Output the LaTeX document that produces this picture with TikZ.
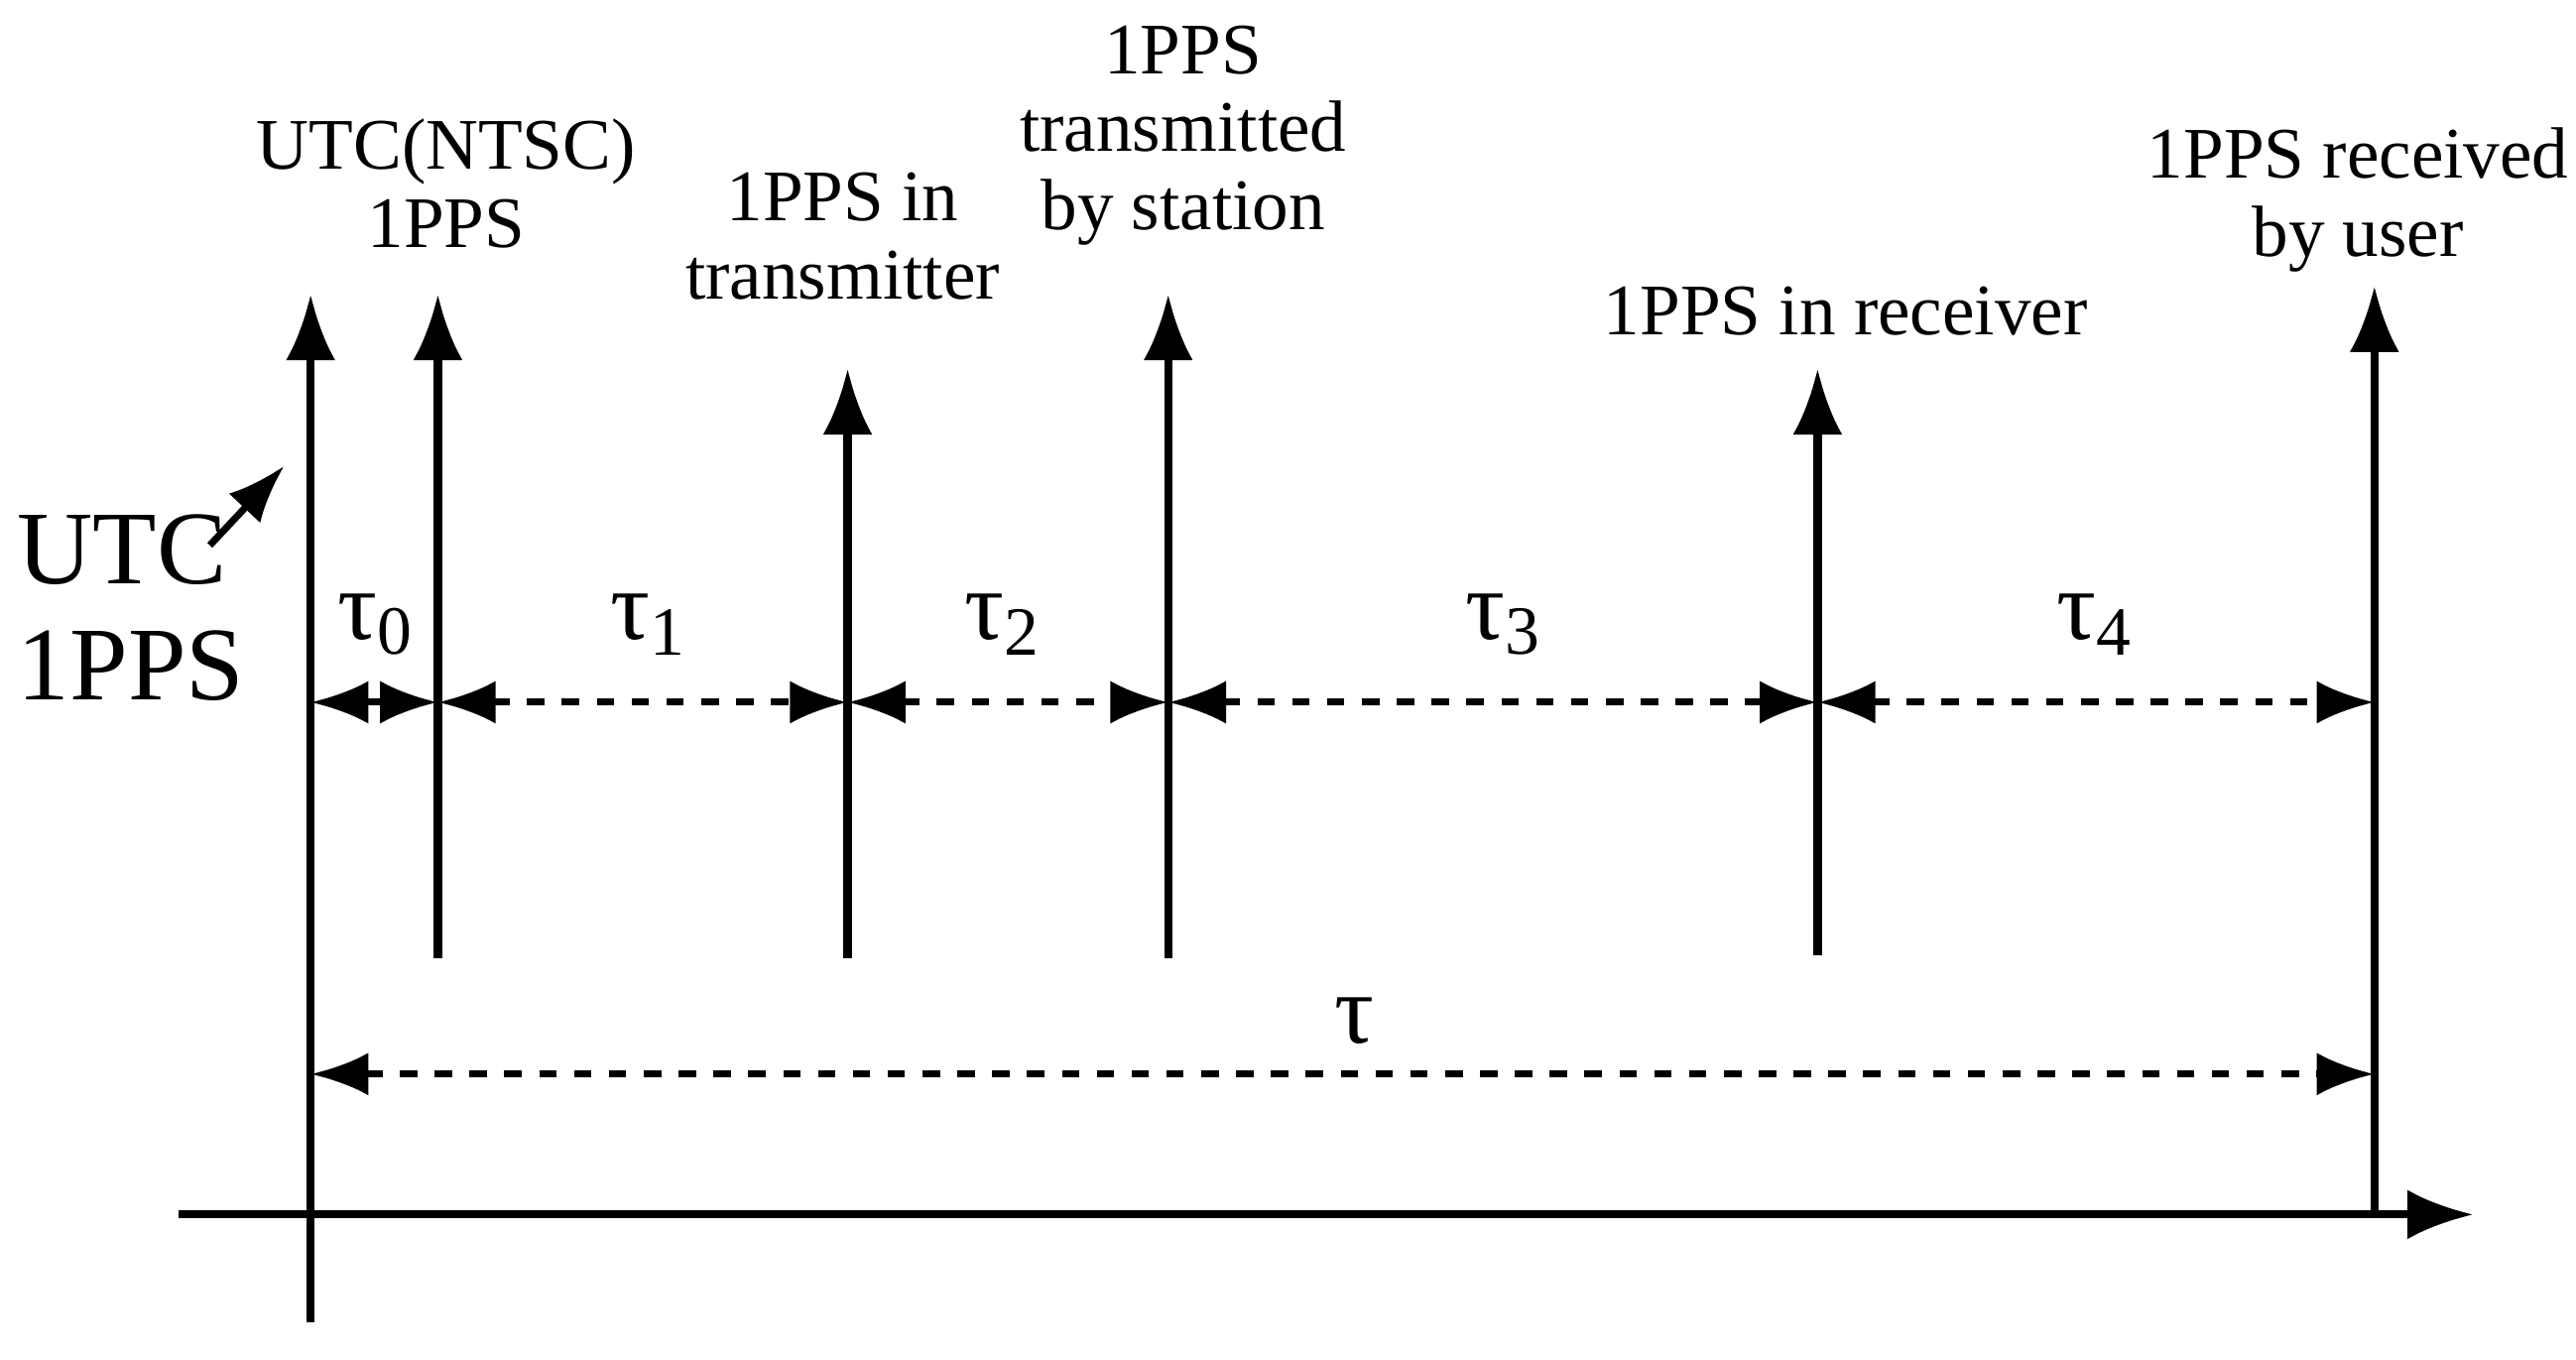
\documentclass[tikz,border=0pt]{standalone}
\usepackage{fontspec}
\setmainfont{Liberation Serif}
\usetikzlibrary{arrows.meta}
\tikzset{
  pulse/.style={line width=1.4pt,-{Latex[length=4mm,width=3mm]}},
  span/.style={dashed,line width=1.2pt,{Latex[length=3.5mm,width=2.6mm]}-{Latex[length=3.5mm,width=2.6mm]}},
  lbl/.style={font=\fontsize{12.5}{13.4}\selectfont,align=center},
  tlbl/.style={font=\fontsize{17}{18}\selectfont},
}
\begin{document}
\begin{tikzpicture}
    \useasboundingbox (0,0) rectangle (15.59,8.23);
    % pulse lines
    \coordinate (b0) at (1.88,0.23); \coordinate (t0) at (1.88,6.45);
    \coordinate (b1) at (2.65,2.43); \coordinate (t1) at (2.65,6.45);
    \coordinate (b2) at (5.13,2.43); \coordinate (t2) at (5.13,6.00);
    \coordinate (b3) at (7.07,2.43); \coordinate (t3) at (7.07,6.45);
    \coordinate (b4) at (11.00,2.45); \coordinate (t4) at (11.00,6.00);
    \coordinate (b5) at (14.37,0.88); \coordinate (t5) at (14.37,6.50);
    \foreach \i in {0,...,5} \draw[pulse] (b\i) -- (t\i);
    % time axis
    \coordinate (a0) at (1.08,0.88); \coordinate (a1) at (14.97,0.88);
    \draw[pulse] (a0) -- (a1);
    % spans
    \foreach \i/\j in {0/1,1/2,2/3,3/4,4/5}
      \draw[span] (b\i |- 0,3.98) -- (b\j |- 0,3.98);
    \draw[span] (b0 |- 0,1.73) -- (b5 |- 0,1.73);
    \node[tlbl] (tau0) at (2.28,4.45) {τ\textsubscript{0}};
    \node[tlbl] (tau1) at (3.93,4.45) {τ\textsubscript{1}};
    \node[tlbl] (tau2) at (6.07,4.45) {τ\textsubscript{2}};
    \node[tlbl] (tau3) at (9.10,4.45) {τ\textsubscript{3}};
    \node[tlbl] (tau4) at (12.68,4.45) {τ\textsubscript{4}};
    \node[tlbl] (tau) at (8.20,2.05) {τ};
    % labels
    \node[lbl] (utcntsc) at (2.70,7.12) {UTC(NTSC)\\1PPS};
    \node[lbl] (tx) at (5.10,6.80) {1PPS in\\transmitter};
    \node[lbl] (station) at (7.16,7.41) {1PPS\\transmitted\\by station};
    \node[lbl] (rx) at (11.17,6.35) {1PPS in receiver};
    \node[lbl] (user) at (14.27,7.02) {1PPS received\\by user};
    \node[anchor=west,align=left,inner sep=0pt,font=\fontsize{18}{20}\selectfont] (utc) at (0.10,4.55) {UTC\\1PPS};
    \coordinate (utcarr) at (1.72,5.41);
    \draw[line width=1.2pt,-{Latex[length=3.5mm,width=2.6mm]}] (1.27,4.93) -- (utcarr);
\end{tikzpicture}
\end{document}
